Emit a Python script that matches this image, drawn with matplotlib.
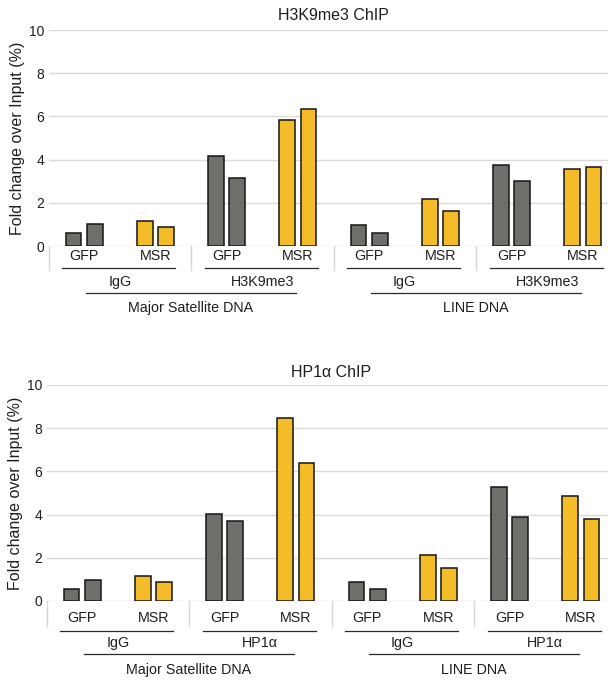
import matplotlib
matplotlib.use("Agg")
import matplotlib.pyplot as plt

plt.rcParams['font.family'] = ['Liberation Sans', 'DejaVu Sans']

# ---- data ----
subgroups = ["GFP", "MSR", "GFP", "MSR", "GFP", "MSR", "GFP", "MSR"]
dna_labels = ["Major Satellite DNA", "LINE DNA"]

h3_antibodies = ["IgG", "H3K9me3", "IgG", "H3K9me3"]
h3_rep1 = [0.59, 1.17, 4.17, 5.83, 0.96, 2.19, 3.73, 3.58]
h3_rep2 = [1.02, 0.86, 3.13, 6.33, 0.60, 1.64, 3.01, 3.66]

hp_antibodies = ["IgG", "HP1α", "IgG", "HP1α"]
hp_rep1 = [0.54, 1.17, 4.03, 8.47, 0.90, 2.13, 5.27, 4.84]
hp_rep2 = [0.97, 0.90, 3.71, 6.40, 0.54, 1.55, 3.88, 3.80]

cell_line = ["GFP", "MSR", "GFP", "MSR", "GFP", "MSR", "GFP", "MSR"]
colors_map = {"GFP": "#6e6f6b", "MSR": "#f4bc28"}

W, H = 608, 680
fig = plt.figure(figsize=(W / 100, H / 100), dpi=100)

TXT = "#1e1e1e"
GRID = "#dadad6"
SEP = "#d6d6d6"


def panel(rect, title, rep1, rep2, antibodies, offs, title_pad):
    ax = fig.add_axes(rect)
    ax_h_px = rect[3] * H
    n = len(rep1)
    xs = [i + 0.5 for i in range(n)]
    bw, off = 0.22, 0.15
    cols = [colors_map[c] for c in cell_line]
    ax.bar([x - off for x in xs], rep1, width=bw, color=cols,
           edgecolor="#151515", linewidth=1.1, zorder=3)
    ax.bar([x + off for x in xs], rep2, width=bw, color=cols,
           edgecolor="#151515", linewidth=1.1, zorder=3)
    ax.set_xlim(0, 8)
    ax.set_ylim(0, 10)
    ax.set_yticks([0, 2, 4, 6, 8, 10])
    ax.tick_params(axis='y', length=0, pad=3, labelsize=10, labelcolor=TXT)
    ax.set_xticks([])
    for s in ax.spines.values():
        s.set_visible(False)
    ax.grid(axis='y', color=GRID, linewidth=1.0, zorder=0)
    ax.set_axisbelow(True)
    ax.set_ylabel("Fold change over Input (%)", fontsize=11.5, color=TXT, labelpad=3)
    ax.set_title(title, fontsize=11.5, color=TXT, pad=title_pad)

    tr = ax.get_xaxis_transform()
    def fy(px):
        return -px / ax_h_px
    sep_end, lab_y, ul_y, ab_y, dl_y, dna_y = offs
    # section separators
    for k in range(5):
        ax.plot([2 * k, 2 * k], [0, fy(sep_end)], transform=tr, color=SEP,
                linewidth=1.0, clip_on=False)
    # subgroup labels
    for x, lab in zip(xs, subgroups):
        ax.text(x, fy(lab_y), lab, transform=tr, ha='center', va='center',
                fontsize=10.3, color=TXT)
    # antibody underline + labels
    for k, ab in enumerate(antibodies):
        s = 2 * k
        ax.plot([s + 0.19, s + 1.78], [fy(ul_y)] * 2, transform=tr,
                color="#2a2a2a", linewidth=0.9, clip_on=False)
        ax.text(s + 1.0, fy(ab_y), ab, transform=tr, ha='center', va='center',
                fontsize=10.3, color=TXT)
    # DNA underline + labels
    for k, dl in enumerate(dna_labels):
        s = 4 * k
        ax.plot([s + 0.53, s + 3.48], [fy(dl_y)] * 2, transform=tr,
                color="#2a2a2a", linewidth=0.9, clip_on=False)
        ax.text(s + 2.0, fy(dna_y), dl, transform=tr, ha='center', va='center',
                fontsize=10.3, color=TXT)
    return ax


panel([48.5 / W, (H - 246) / H, 570 / W, 216 / H], "H3K9me3 ChIP",
      h3_rep1, h3_rep2, h3_antibodies, (24, 10, 22.3, 35.7, 47.3, 62.3), 7.5)
panel([46.5 / W, (H - 601) / H, 570 / W, 216 / H], "HP1α ChIP",
      hp_rep1, hp_rep2, hp_antibodies, (25, 16.7, 29.7, 41.7, 53.3, 69), 6)

fig.savefig("out.png", dpi=100)
